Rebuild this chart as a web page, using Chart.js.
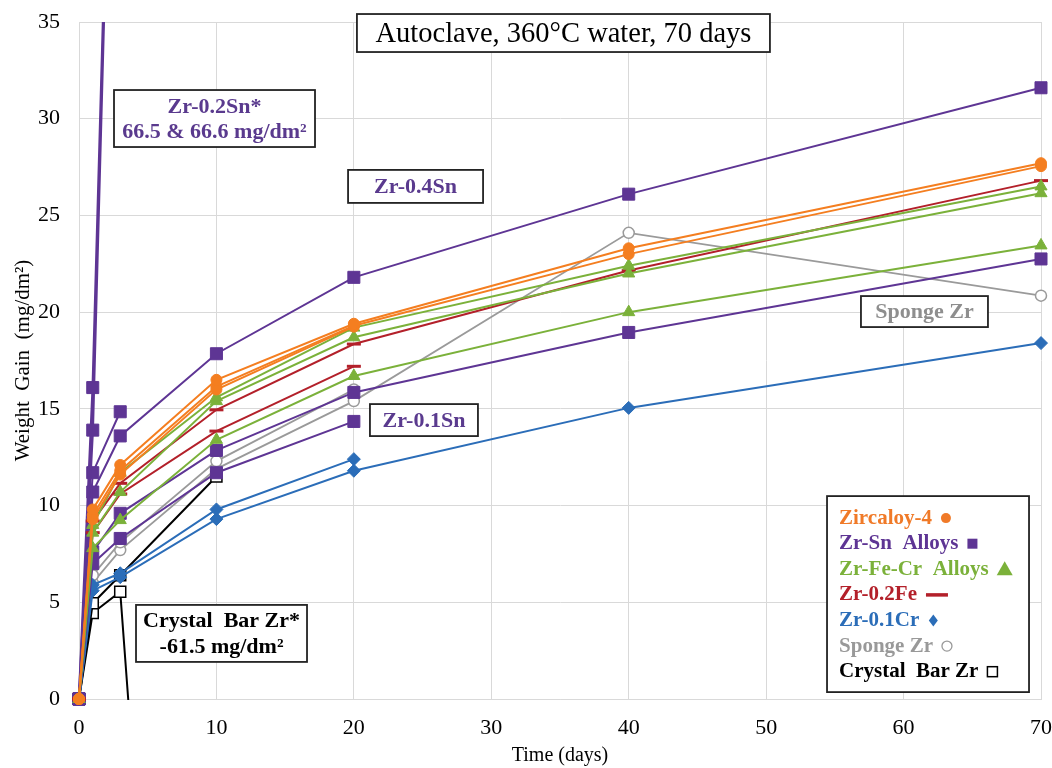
<!DOCTYPE html>
<html>
<head>
<meta charset="utf-8">
<script src="https://cdn.jsdelivr.net/npm/chart.js@4.4.1/dist/chart.umd.min.js"></script>
<style>
html,body{margin:0;padding:0;background:#fff;}
#wrap{width:1052px;height:768px;position:relative;}
</style>
</head>
<body>
<div id="wrap"><canvas id="c" width="1052" height="768"></canvas></div>
<script>
// ---- data ----
const days = [0, 1, 3, 10, 20, 40, 70];
const xTicks = [0, 10, 20, 30, 40, 50, 60, 70];
const yTicks = [0, 5, 10, 15, 20, 25, 30, 35];

const zircaloy4A = [0, 9.8, 12.1, 16.5, 19.4, 23.3, 27.7];
const zircaloy4B = [0, 9.5, 11.8, 16.15, 19.3, 23.0, 27.55];
const zircaloy4C = [0, 9.3, 11.6, 16.0, 19.25];
const zr02SnA = [0, 16.1, 66.6];
const zr02SnB = [0, 13.9, 66.5];
const zr04SnA = [0, 11.7, 14.85];
const zr04SnB = [0, 10.7, 13.6, 17.85, 21.8, 26.1, 31.6];
const zr01SnA = [0, 7.6, 9.6, 12.85, 15.85, 18.95, 22.75];
const zr01SnB = [0, 7.0, 8.3, 11.7, 14.35];
const zrFeCrA = [0, 9.0, 11.7, 15.6, 19.2, 22.4, 26.5];
const zrFeCrB = [0, 8.6, 10.7, 15.4, 18.7, 22.0, 26.15];
const zrFeCrC = [0, 7.8, 9.25, 13.4, 16.7, 20.0, 23.45];
const zr02FeA = [0, 9.2, 11.15, 14.95, 18.35, 22.15, 26.8];
const zr02FeB = [0, 8.6, 10.6, 13.85, 17.2];
const zr01CrA = [0, 5.9, 6.5, 9.8, 12.4];
const zr01CrB = [0, 5.6, 6.3, 9.3, 11.8, 15.05, 18.4];
const spongeA = [0, 6.4, 8.1, 12.3, 16.0];
const spongeB = [0, 6.0, 7.7, 11.9, 15.4, 24.1, 20.85];
const crystalA = [0, 4.95, 6.4, 11.5];
const crystalB = [0, 4.45, 5.55, -61.5];

const legendLabels = ['Zircaloy-4', 'Zr-Sn  Alloys', 'Zr-Fe-Cr  Alloys', 'Zr-0.2Fe', 'Zr-0.1Cr', 'Sponge Zr', 'Crystal  Bar Zr'];
const titleText = 'Autoclave, 360°C water, 70 days';

// ---- styles ----
const FONT = "'Liberation Serif', 'Times New Roman', serif";
const C = {
  orange: '#F47E20', purple: '#5E3594', green: '#7BB13A', red: '#B3202A',
  blue: '#2B6DB8', gray: '#9A9A9A', black: '#000000'
};

function pts(vals) { return vals.map((v, i) => ({ x: days[i], y: v })); }

const clipStd = { left: 12, right: 12, top: 0, bottom: 10 };
function ds(vals, color, style, opt) {
  return Object.assign({
    data: pts(vals), borderColor: color, backgroundColor: color,
    borderWidth: 2, pointStyle: style, pointRadius: 6,
    pointBorderColor: color, pointBackgroundColor: color, pointBorderWidth: 1,
    tension: 0, clip: clipStd
  }, opt || {});
}

const datasets = [
  ds(zircaloy4A, C.orange, 'circle', { pointRadius: 5.5, order: 1 }),
  ds(zircaloy4B, C.orange, 'circle', { pointRadius: 5.5, order: 1 }),
  ds(zircaloy4C, C.orange, 'circle', { pointRadius: 5.5, order: 1 }),
  ds(zrFeCrA, C.green, 'triangle', { pointRadius: 7, order: 2 }),
  ds(zrFeCrB, C.green, 'triangle', { pointRadius: 7, order: 2 }),
  ds(zrFeCrC, C.green, 'triangle', { pointRadius: 7, order: 2 }),
  ds(zr02FeA, C.red, 'line', { pointRadius: 7, pointBorderWidth: 3, order: 3 }),
  ds(zr02FeB, C.red, 'line', { pointRadius: 7, pointBorderWidth: 3, order: 3 }),
  ds(zr02SnA, C.purple, 'rect', { pointRadius: 8.5, borderWidth: 2.5, order: 4 }),
  ds(zr02SnB, C.purple, 'rect', { pointRadius: 8.5, borderWidth: 2.5, order: 4 }),
  ds(zr04SnA, C.purple, 'rect', { pointRadius: 8.5, order: 4 }),
  ds(zr04SnB, C.purple, 'rect', { pointRadius: 8.5, order: 4 }),
  ds(zr01SnA, C.purple, 'rect', { pointRadius: 8.5, order: 4 }),
  ds(zr01SnB, C.purple, 'rect', { pointRadius: 8.5, order: 4 }),
  ds(zr01CrA, C.blue, 'rectRot', { pointRadius: 6.5, order: 5 }),
  ds(zr01CrB, C.blue, 'rectRot', { pointRadius: 6.5, order: 5 }),
  ds(spongeA, C.gray, 'circle', { pointRadius: 5.5, pointBackgroundColor: '#fff', pointBorderWidth: 1.5, borderWidth: 1.8, order: 6 }),
  ds(spongeB, C.gray, 'circle', { pointRadius: 5.5, pointBackgroundColor: '#fff', pointBorderWidth: 1.5, borderWidth: 1.8, order: 6 }),
  ds(crystalA, C.black, 'rect', { pointRadius: 7.8, pointBackgroundColor: '#fff', pointBorderWidth: 1.5, order: 7 }),
  ds(crystalB, C.black, 'rect', { pointRadius: 7.8, pointBackgroundColor: '#fff', pointBorderWidth: 1.5, order: 7,
    clip: { left: 12, right: 12, top: 0, bottom: 1 } })
];

// annotation boxes (centre in data units, size in px)
const boxes = [
  { x: 35.25, y: 34.43, w: 413, h: 38, lines: [titleText], color: '#000', bold: false, size: 28.5 },
  { x: 9.86, y: 30.01, w: 201, h: 57, lines: ['Zr-0.2Sn*', '66.5 & 66.6 mg/dm²'], color: '#5A3A8E', bold: true, size: 22 },
  { x: 24.49, y: 26.5, w: 135, h: 33, lines: ['Zr-0.4Sn'], color: '#5A3A8E', bold: true, size: 22 },
  { x: 25.1, y: 14.42, w: 108, h: 32, lines: ['Zr-0.1Sn'], color: '#5A3A8E', bold: true, size: 22 },
  { x: 61.52, y: 20.03, w: 127, h: 31, lines: ['Sponge Zr'], color: '#8E8E8E', bold: true, size: 22 },
  { x: 10.37, y: 3.39, w: 171, h: 57, lines: ['Crystal  Bar Zr*', '-61.5 mg/dm²'], color: '#000', bold: true, size: 22 }
];

const legendColors = ['#F07A28', C.purple, C.green, C.red, C.blue, '#999999', '#000'];
const legendMarks = ['circle', 'square', 'triangle', 'dash', 'diamond', 'ocircle', 'osquare'];

const annotPlugin = {
  id: 'annot',
  afterDraw(chart) {
    const ctx = chart.ctx, xs = chart.scales.x, ys = chart.scales.y;
    ctx.save();
    boxes.forEach(b => {
      const cx = xs.getPixelForValue(b.x), cy = ys.getPixelForValue(b.y);
      const l = cx - b.w / 2, t = cy - b.h / 2;
      ctx.fillStyle = '#fff';
      ctx.fillRect(l, t, b.w, b.h);
      ctx.lineWidth = 1.8; ctx.strokeStyle = '#222';
      ctx.strokeRect(l, t, b.w, b.h);
      ctx.fillStyle = b.color;
      ctx.font = (b.bold ? 'bold ' : '') + b.size + 'px ' + FONT;
      ctx.textAlign = 'center'; ctx.textBaseline = 'middle';
      const lh = b.size * 1.15;
      const y0 = cy - (b.lines.length - 1) * lh / 2;
      b.lines.forEach((s, i) => ctx.fillText(s, cx, y0 + i * lh + 1));
    });
    // legend box
    const lx = xs.getPixelForValue(54.43), ty = ys.getPixelForValue(10.49);
    const lw = 202, lh = 196;
    ctx.fillStyle = '#fff'; ctx.fillRect(lx, ty, lw, lh);
    ctx.lineWidth = 1.8; ctx.strokeStyle = '#222'; ctx.strokeRect(lx, ty, lw, lh);
    ctx.font = 'bold 21px ' + FONT;
    ctx.textAlign = 'left'; ctx.textBaseline = 'middle';
    legendLabels.forEach((s, i) => {
      const yy = ty + 22 + i * 25.6;
      const tx = lx + 12;
      ctx.fillStyle = legendColors[i];
      ctx.fillText(s, tx, yy);
      const mw = ctx.measureText(s).width;
      const m = legendMarks[i];
      const col = legendColors[i];
      ctx.fillStyle = col; ctx.strokeStyle = col;
      let mx = tx + mw + 14;
      ctx.beginPath();
      if (m === 'circle') { ctx.arc(mx, yy, 5, 0, Math.PI * 2); ctx.fill(); }
      else if (m === 'square') { ctx.fillRect(mx - 5, yy - 5, 10, 10); }
      else if (m === 'triangle') { mx += 2; ctx.moveTo(mx, yy - 8); ctx.lineTo(mx + 8, yy + 6); ctx.lineTo(mx - 8, yy + 6); ctx.closePath(); ctx.fill(); }
      else if (m === 'dash') { mx += 6; ctx.lineWidth = 3.5; ctx.moveTo(mx - 11, yy); ctx.lineTo(mx + 11, yy); ctx.stroke(); }
      else if (m === 'diamond') { ctx.moveTo(mx, yy - 6); ctx.lineTo(mx + 4.5, yy); ctx.lineTo(mx, yy + 6); ctx.lineTo(mx - 4.5, yy); ctx.closePath(); ctx.fill(); }
      else if (m === 'ocircle') { ctx.lineWidth = 1.3; ctx.arc(mx, yy, 5, 0, Math.PI * 2); ctx.stroke(); }
      else if (m === 'osquare') { ctx.lineWidth = 1.5; ctx.strokeRect(mx - 5, yy - 5, 10, 10); }
    });
    ctx.restore();
  }
};

new Chart(document.getElementById('c'), {
  type: 'line',
  data: { datasets },
  plugins: [annotPlugin],
  options: {
    responsive: false, animation: false, events: [],
    layout: { padding: { top: 22, right: 11, left: 0, bottom: 0 } },
    plugins: { legend: { display: false }, tooltip: { enabled: false }, title: { display: false } },
    scales: {
      x: {
        type: 'linear', min: 0, max: 70,
        afterBuildTicks: s => { s.ticks = xTicks.map(v => ({ value: v })); },
        ticks: { font: { family: FONT, size: 22 }, color: '#000', padding: 16, maxRotation: 0 },
        grid: { color: '#d9d9d9', lineWidth: 1, drawTicks: false },
        border: { color: '#d9d9d9' },
        title: { display: true, text: 'Time (days)', color: '#000', font: { family: FONT, size: 20 }, padding: { top: 0, bottom: 0 } },
        afterFit: s => { s.height = 69; s.paddingRight = 11; s.paddingLeft = 0; }
      },
      y: {
        type: 'linear', min: 0, max: 35,
        afterBuildTicks: s => { s.ticks = yTicks.map(v => ({ value: v })); },
        ticks: { font: { family: FONT, size: 22 }, color: '#000', padding: 19 },
        grid: { color: '#d9d9d9', lineWidth: 1, drawTicks: false },
        border: { color: '#d9d9d9' },
        title: { display: true, text: 'Weight  Gain  (mg/dm²)', color: '#000', font: { family: FONT, size: 21 }, padding: { top: 11, bottom: 0 } },
        afterFit: s => { s.width = 79; s.paddingTop = 0; s.paddingBottom = 0; }
      }
    }
  }
});
</script>
</body>
</html>
